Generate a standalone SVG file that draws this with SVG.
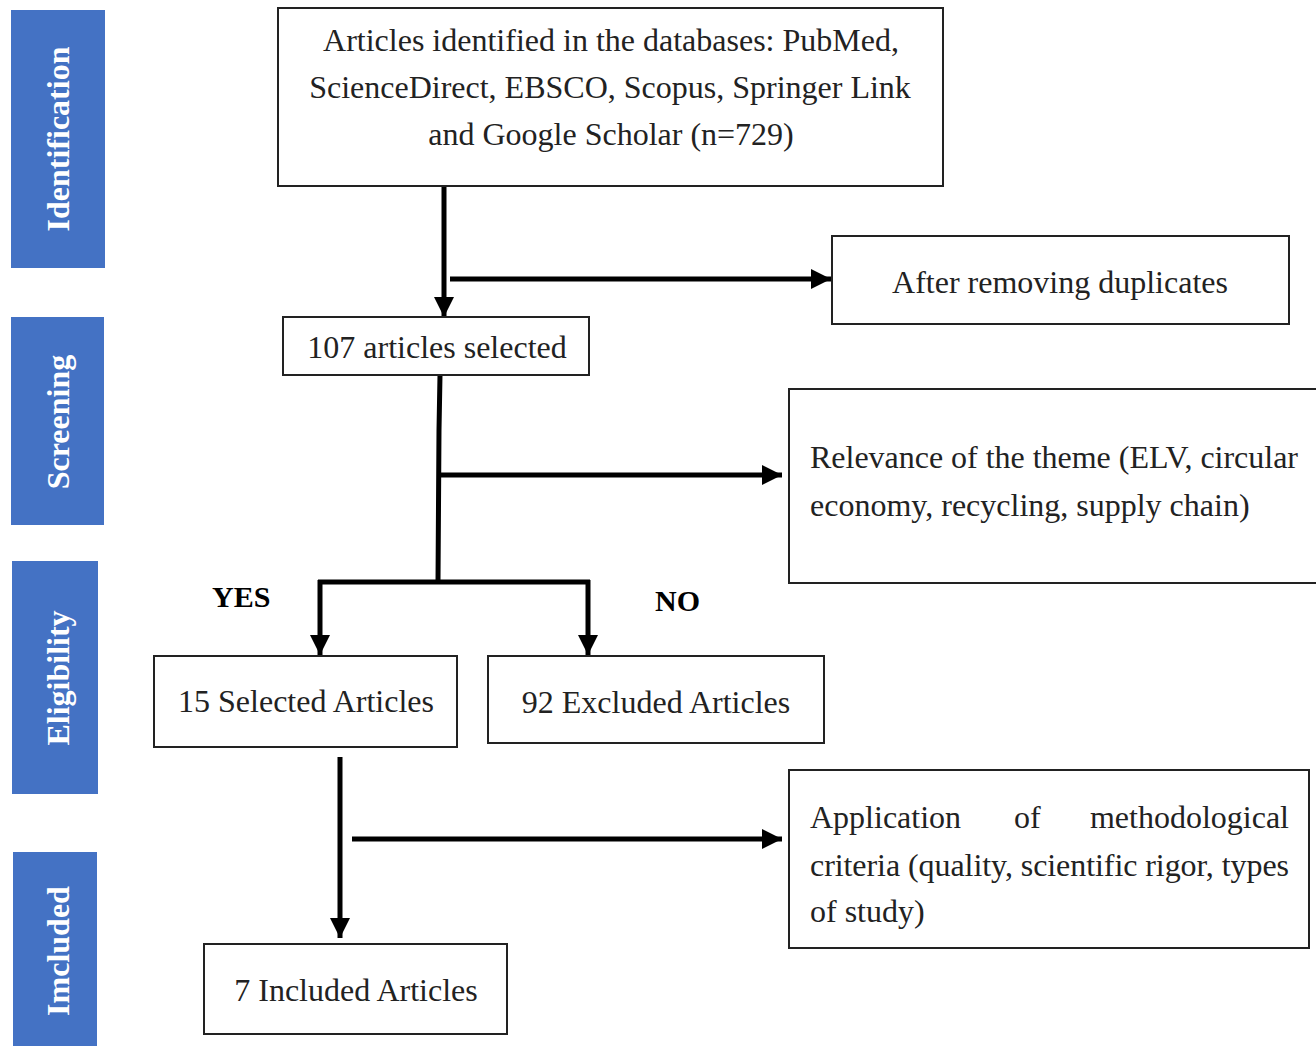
<svg xmlns="http://www.w3.org/2000/svg" width="1316" height="1046" viewBox="0 0 1316 1046">
<defs>
<marker id="ah" markerUnits="userSpaceOnUse" markerWidth="22" markerHeight="22" refX="20" refY="10" orient="auto">
<path d="M0,0 L20,10 L0,20 z" fill="#000"/>
</marker>
<style>
.bar{fill:#4472C4;}
.bl{font-family:"Liberation Serif","Times New Roman",serif;font-weight:bold;font-size:32px;fill:#fff;text-anchor:middle;}
.box{fill:#fff;stroke:#222;stroke-width:2;}
.t{font-family:"Liberation Serif","Times New Roman",serif;font-size:32px;fill:#222;}
.c{text-anchor:middle;}
.lab{font-family:"Liberation Serif","Times New Roman",serif;font-size:30px;font-weight:bold;fill:#000;}
.cn{stroke:#000;stroke-width:5;fill:none;}
</style>
</defs>
<rect width="1316" height="1046" fill="#fff"/>

<g id="stage-identification">
<rect class="bar" x="11" y="10" width="94" height="258"/>
<text class="bl" transform="translate(69,139) rotate(-90)">Identification</text>
</g>
<g id="stage-screening">
<rect class="bar" x="11" y="317" width="93" height="208"/>
<text class="bl" transform="translate(69,422) rotate(-90)">Screening</text>
</g>
<g id="stage-eligibility">
<rect class="bar" x="12" y="561" width="86" height="233"/>
<text class="bl" transform="translate(69,678) rotate(-90)">Eligibility</text>
</g>
<g id="stage-included">
<rect class="bar" x="13" y="852" width="84" height="194"/>
<text class="bl" transform="translate(69,951) rotate(-90)">Imcluded</text>
</g>

<g id="connectors">
<line class="cn" x1="444" y1="186" x2="444" y2="317" marker-end="url(#ah)"/>
<line class="cn" x1="450" y1="279" x2="831" y2="279" marker-end="url(#ah)"/>
<polyline class="cn" points="440,375 439,430 438,582"/>
<line class="cn" x1="440" y1="475" x2="782" y2="475" marker-end="url(#ah)"/>
<line class="cn" x1="318" y1="582" x2="590" y2="582"/>
<line class="cn" x1="320" y1="580" x2="320" y2="655" marker-end="url(#ah)"/>
<line class="cn" x1="588" y1="580" x2="588" y2="655" marker-end="url(#ah)"/>
<line class="cn" x1="340" y1="757" x2="340" y2="938" marker-end="url(#ah)"/>
<line class="cn" x1="352" y1="839" x2="782" y2="839" marker-end="url(#ah)"/>
<text class="lab" x="212" y="607">YES</text>
<text class="lab" x="655" y="611">NO</text>
</g>

<g id="node-identified">
<rect class="box" x="278" y="8" width="665" height="178"/>
<text class="t c" x="611" y="51">Articles identified in the databases: PubMed,</text>
<text class="t c" x="610" y="98">ScienceDirect, EBSCO, Scopus, Springer Link</text>
<text class="t c" x="611" y="145">and Google Scholar (n=729)</text>
</g>
<g id="node-duplicates">
<rect class="box" x="832" y="236" width="457" height="88"/>
<text class="t c" x="1060" y="293">After removing duplicates</text>
</g>
<g id="node-107">
<rect class="box" x="283" y="317" width="306" height="58"/>
<text class="t c" x="437" y="358">107 articles selected</text>
</g>
<g id="node-relevance">
<rect class="box" x="789" y="389" width="530" height="194"/>
<text class="t" x="810" y="468" textLength="488" lengthAdjust="spacing">Relevance of the theme (ELV, circular</text>
<text class="t" x="810" y="516">economy, recycling, supply chain)</text>
</g>
<g id="node-selected15">
<rect class="box" x="154" y="656" width="303" height="91"/>
<text class="t c" x="306" y="712">15 Selected Articles</text>
</g>
<g id="node-excluded92">
<rect class="box" x="488" y="656" width="336" height="87"/>
<text class="t c" x="656" y="713">92 Excluded Articles</text>
</g>
<g id="node-methodological">
<rect class="box" x="789" y="770" width="520" height="178"/>
<text class="t" x="810" y="828">Application</text>
<text class="t" x="1014" y="828">of</text>
<text class="t" x="1289" y="828" text-anchor="end">methodological</text>
<text class="t" x="810" y="876" textLength="479" lengthAdjust="spacing">criteria (quality, scientific rigor, types</text>
<text class="t" x="810" y="922">of study)</text>
</g>
<g id="node-included7">
<rect class="box" x="204" y="944" width="303" height="90"/>
<text class="t c" x="356" y="1001">7 Included Articles</text>
</g>
</svg>
